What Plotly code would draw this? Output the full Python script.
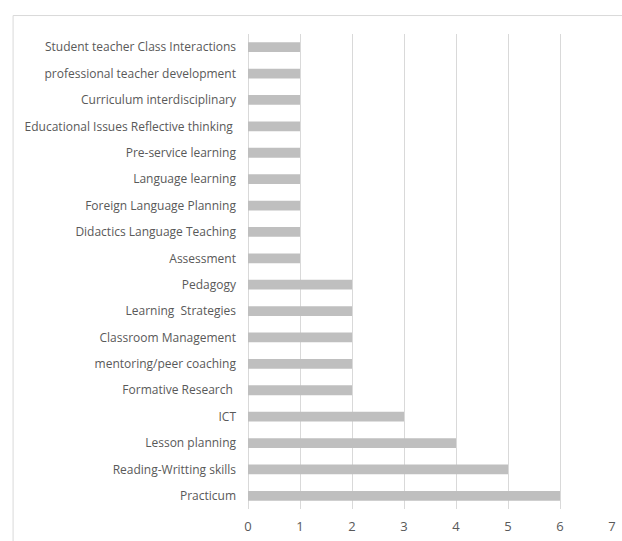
import plotly.graph_objects as go

# Topics, listed from top to bottom, with their frequency counts
topics = [
    "Student teacher Class Interactions",
    "professional teacher development",
    "Curriculum interdisciplinary",
    "Educational Issues Reflective thinking\u00a0",
    "Pre-service learning",
    "Language learning",
    "Foreign Language Planning",
    "Didactics Language Teaching",
    "Assessment",
    "Pedagogy",
    "Learning\u00a0 Strategies",
    "Classroom Management",
    "mentoring/peer coaching",
    "Formative Research\u00a0",
    "ICT",
    "Lesson planning",
    "Reading-Writting skills",
    "Practicum",
]
counts = [1, 1, 1, 1, 1, 1, 1, 1, 1, 2, 2, 2, 2, 2, 3, 4, 5, 6]
x_ticks = [0, 1, 2, 3, 4, 5, 6, 7]

W, H = 622, 541
L, R, T, B = 248, 6, 34, 31
pw, ph = W - L - R, H - T - B

fig = go.Figure(
    go.Bar(
        x=counts,
        y=topics,
        orientation="h",
        marker=dict(color="#bfbfbf", line=dict(width=0)),
        width=0.37,
    )
)

text_font = dict(family="Open Sans, Noto Sans, sans-serif", size=12, color="#595959")
tick_font = dict(family="Open Sans, Noto Sans, sans-serif", size=13, color="#595959")

fig.update_layout(
    width=W,
    height=H,
    margin=dict(l=L, r=R, t=T, b=B),
    paper_bgcolor="white",
    plot_bgcolor="white",
    showlegend=False,
    xaxis=dict(
        range=[0, 7],
        tickvals=x_ticks,
        ticktext=[str(v) for v in x_ticks],
        showgrid=True,
        gridcolor="#d9d9d9",
        gridwidth=1,
        zeroline=True,
        zerolinecolor="#d9d9d9",
        zerolinewidth=1,
        showline=False,
        ticks="",
        tickfont=tick_font,
        ticklabelstandoff=8,
        fixedrange=True,
    ),
    yaxis=dict(
        autorange="reversed",
        showgrid=False,
        showline=False,
        ticks="",
        tickfont=text_font,
        ticklabelstandoff=11,
        fixedrange=True,
    ),
)

# Outer chart frame: left and top edges of the light border box
left_x = (10.5 - L) / pw
top_y = 1 + (T - 15.5) / ph
bottom_y = -(B + 5) / ph
right_x = 1 + (R + 5) / pw
frame = dict(color="#d9d9d9", width=1)
fig.add_shape(type="line", xref="paper", yref="paper",
              x0=left_x, x1=left_x, y0=bottom_y, y1=top_y, line=frame)
fig.add_shape(type="line", xref="paper", yref="paper",
              x0=left_x, x1=right_x, y0=top_y, y1=top_y, line=frame)

fig.write_html("out.html")
